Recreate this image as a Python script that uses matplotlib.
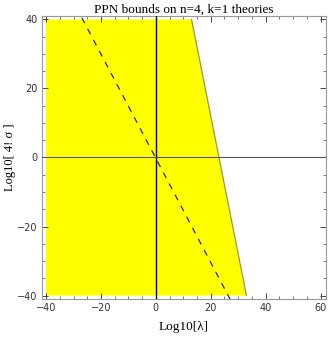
import numpy as np
import matplotlib.pyplot as plt

# right edge of the allowed (yellow) region
edge_y = [40, 30, 20, 10, 0, -10, -20, -30, -40]
edge_x = [13.0, 15.5, 18.0, 20.5, 23.0, 25.5, 28.0, 30.5, 33.0]
left_x = -40

# dashed reference line
line_x = [-27, 27]
line_y = [40.5, -41]

fig = plt.figure(figsize=(3.32, 3.38), dpi=100)
ax = fig.add_axes([0.1265, 0.1154, 0.8555, 0.8373])

px = [left_x] + edge_x + [left_x]
py = [edge_y[0]] + edge_y + [edge_y[-1]]
ax.fill(px, py, color='#ffff00', lw=0, zorder=1)
ax.plot(edge_x, edge_y, color='#9a9a30', lw=0.9, zorder=2)

ax.plot(line_x, line_y, color='#2a2a60', lw=0.9, dashes=(5, 5), zorder=3)

ax.axvline(0, color='black', lw=1.0, zorder=4)
ax.axhline(0, color='#555555', lw=0.8, zorder=4)

ax.set_xlim(-41.5, 62)
ax.set_ylim(-41, 41)
ax.set_xticks([-40, -20, 0, 20, 40, 60])
ax.set_yticks([-40, -20, 0, 20, 40])
ax.set_xticks(np.arange(-40, 61, 5), minor=True)
ax.set_yticks(np.arange(-40, 41, 5), minor=True)
ax.set_xticklabels(['\u221240', '\u221220', '0', '20', '40', '60'])
ax.set_yticklabels(['\u221240', '\u221220', '0', '20', '40'])
ax.tick_params(which='both', direction='in', top=True, right=True,
               color='#444444', labelsize=7, labelcolor='#333333', pad=3)
ax.tick_params(which='major', length=4, width=0.7)
ax.tick_params(which='minor', length=2, width=0.5)
for s in ax.spines.values():
    s.set_color('#999999')
    s.set_linewidth(0.8)

serif = ['Liberation Serif', 'DejaVu Serif']
ax.set_title('PPN bounds on n=4, k=1 theories', fontsize=9.5, family=serif, pad=2)
ax.set_xlabel('Log10[\u03bb]', fontsize=9.5, family=serif, labelpad=6)
ax.set_ylabel('Log10[ 4! \u03c3 ]', fontsize=9, family=serif, labelpad=1)

fig.savefig('out.png', dpi=100)
